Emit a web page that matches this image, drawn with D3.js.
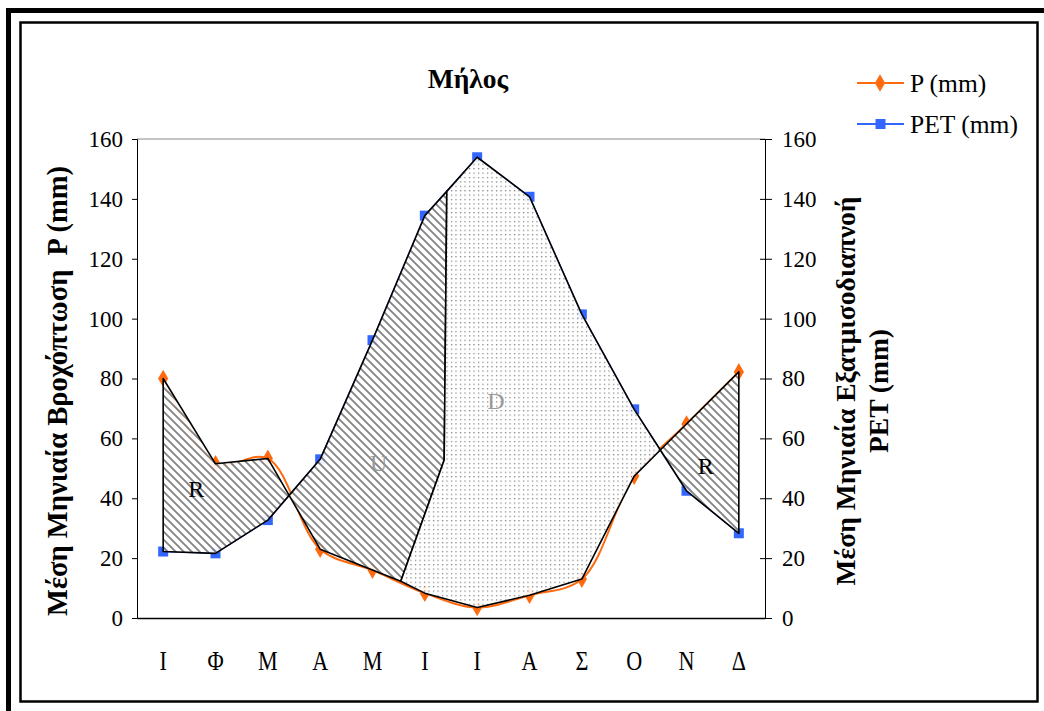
<!DOCTYPE html>
<html><head><meta charset="utf-8">
<script src="https://cdn.jsdelivr.net/npm/d3@7"></script>
<style>body{margin:0;background:#fff}svg{display:block}</style>
</head><body>
<svg id="c" width="1044" height="711" font-family="Liberation Serif"></svg>
<script>
// ---- data ----
const months = ["Ι","Φ","Μ","Α","Μ","Ι","Ι","Α","Σ","Ο","Ν","Δ"];
const P   = [80, 51.5, 53.3, 23, 16, 8.3, 3.5, 7.6, 13, 47.4, 64.8, 82.2];
const PET = [22.2, 21.6, 32.7, 53, 92.8, 134.4, 153.9, 140.7, 101.4, 69.7, 42.5, 28.3];
const yTicks = [0,20,40,60,80,100,120,140,160];
// hand-drawn U/D divider (month position, mm)
const dividerM = [5.42, 5.37, 4.54];
const dividerV = [142.5, 52.8, 12.3];
// zone labels
const zoneText = ["R","U","D","R"];
const zoneM = [0.63, 4.12, 6.36, 10.37];
const zoneV = [43.1, 51.8, 72.6, 50.8];
const title = "Μήλος";
const leftTitle = "Μέση Μηνιαία Βροχόπτωση  P (mm)";
const rightTitle = ["Μέση Μηνιαία Εξατμισοδιαπνοή","PET (mm)"];
const legendNames = ["P (mm)","PET (mm)"];

const FF = "'Liberation Serif', 'DejaVu Serif', serif";
const svg = d3.select("#c");
const L=137, R=765, T=139, B=618;
const x = d3.scaleLinear().domain([-0.5,11.5]).range([L,R]);
const xb = d3.scaleBand().domain(d3.range(12)).range([L,R]);
const y = d3.scaleLinear().domain([0,160]).range([B,T]);
const orange="#FF6A0E", blue="#3366FF";

// frame
svg.append("rect").attr("x",6).attr("y",8).attr("width",1038).attr("height",5).attr("fill","#000");
svg.append("rect").attr("x",6).attr("y",8).attr("width",5).attr("height",703).attr("fill","#000");
svg.append("rect").attr("x",20.5).attr("y",22.5).attr("width",1017).attr("height",679).attr("fill","#fff").attr("stroke","#000").attr("stroke-width",2.5);

// patterns
const defs = svg.append("defs");
const hp = defs.append("pattern").attr("id","hatch").attr("patternUnits","userSpaceOnUse").attr("width",8).attr("height",8);
hp.append("rect").attr("width",8).attr("height",8).attr("fill","#fff");
hp.append("path").attr("d","M-2,6 L2,10 M0,0 L8,8 M6,-2 L10,2").attr("stroke","#7a7a7a").attr("stroke-width",1.9);
const dp = defs.append("pattern").attr("id","dots").attr("patternUnits","userSpaceOnUse").attr("width",4.5).attr("height",4.4);
dp.append("rect").attr("width",4.5).attr("height",4.4).attr("fill","#fff");
dp.append("rect").attr("x",1).attr("y",1).attr("width",1.1).attr("height",1.1).attr("fill","#4a4a4a");

// plot top line
svg.append("line").attr("x1",L).attr("x2",R).attr("y1",T).attr("y2",T).attr("stroke","#888").attr("stroke-width",1);

// axes
const fs = 23;
const ga = svg.append("g").attr("transform",`translate(${L},0)`).call(d3.axisLeft(y).tickValues(yTicks).tickSize(5).tickPadding(9));
const ga2 = svg.append("g").attr("transform",`translate(${R},0)`).call(d3.axisRight(y).tickValues(yTicks).tickSize(7).tickPadding(10));
ga2.selectAll(".tick line").attr("x1",-5);
const gx = svg.append("g").attr("transform",`translate(0,${B})`).call(d3.axisBottom(xb).tickSize(0).tickPadding(33).tickFormat(i=>months[i]));
[ga,ga2,gx].forEach(g=>{
  g.attr("font-family",FF);
  g.selectAll("text").attr("font-family",FF).attr("font-size",fs).attr("fill","#000");
  g.select(".domain").attr("stroke","#000");
  g.selectAll(".tick line").attr("stroke","#000");
});
gx.select(".domain").attr("stroke-width",1.5);
gx.selectAll(".tick text").attr("font-size",27).attr("transform","scale(0.82,1)");

// lines
const lineP = d3.line().x((d,i)=>x(i)).y(d=>y(d)).curve(d3.curveCatmullRom.alpha(0.5));
const linePET = d3.line().x((d,i)=>x(i)).y(d=>y(d));
svg.append("path").attr("d",lineP(P)).attr("fill","none").attr("stroke",orange).attr("stroke-width",2);
svg.append("path").attr("d",linePET(PET)).attr("fill","none").attr("stroke",blue).attr("stroke-width",1.5);
svg.selectAll(".mp").data(P).join("path").attr("class","mp")
  .attr("d",d3.symbol(d3.symbolDiamond,90)).attr("transform",(d,i)=>`translate(${x(i)},${y(d)})`).attr("fill",orange);
svg.selectAll(".mb").data(PET).join("rect").attr("class","mb")
  .attr("x",(d,i)=>x(i)-5).attr("y",d=>y(d)-5).attr("width",10).attr("height",10).attr("fill",blue);

// zone polygons derived from the series
const cross=(i)=>{const d0=P[i]-PET[i], d1=P[i+1]-PET[i+1]; const t=d0/(d0-d1); return [i+t, P[i]+(P[i+1]-P[i])*t];};
const c1=cross(2), c2=cross(9);
const dv = dividerM.map((m,k)=>[m,dividerV[k]]);
const zR1 = [[0,P[0]],[1,P[1]],[2,P[2]],c1,[2,PET[2]],[1,PET[1]],[0,PET[0]]];
const zU = [c1,[3,PET[3]],[4,PET[4]],[5,PET[5]],dv[0],dv[1],dv[2],[4,P[4]],[3,P[3]]];
const zD = [dv[0],[6,PET[6]],[7,PET[7]],[8,PET[8]],[9,PET[9]],c2,[9,P[9]],[8,P[8]],[7,P[7]],[6,P[6]],[5,P[5]],dv[2],dv[1]];
const zR2 = [c2,[10,P[10]],[11,P[11]],[11,PET[11]],[10,PET[10]]];
const poly = d3.line().x(d=>x(d[0])).y(d=>y(d[1])).curve(d3.curveLinearClosed);
[[zR1,"hatch"],[zU,"hatch"],[zD,"dots"],[zR2,"hatch"]].forEach(([z,f])=>{
  svg.append("path").attr("d",poly(z)).attr("fill",`url(#${f})`).attr("fill-opacity",0.92)
    .attr("stroke","#000").attr("stroke-width",1.6).attr("stroke-linejoin","round");
});
// zone labels
svg.selectAll(".zl").data(zoneText).join("text").attr("class","zl")
  .attr("x",(d,i)=>x(zoneM[i])).attr("y",(d,i)=>y(zoneV[i])).attr("dy","0.35em")
  .attr("text-anchor","middle").attr("font-size",24).attr("font-family",FF)
  .attr("fill",(d,i)=> (i===1||i===2)?"#999":"#000").text(d=>d);

// title
svg.append("text").attr("x",468).attr("y",88).attr("text-anchor","middle").attr("font-family",FF)
  .attr("font-size",27.5).attr("font-weight","bold").text(title);
// axis titles
svg.append("text").attr("transform","translate(67,391) rotate(-90)").attr("text-anchor","middle").attr("font-family",FF)
  .attr("font-size",28.5).attr("font-weight","bold").attr("xml:space","preserve").style("white-space","pre").text(leftTitle);
const rt = svg.append("text").attr("transform","translate(855,391) rotate(-90)").attr("text-anchor","middle").attr("font-family",FF)
  .attr("font-size",27.5).attr("font-weight","bold");
rt.selectAll("tspan").data(rightTitle).join("tspan").attr("x",0).attr("dy",(d,i)=>i?"1.2em":0).text(d=>d);

// legend
const lg = svg.append("g");
const ly=[83,124];
legendNames.forEach((n,i)=>{
  const c = i?blue:orange;
  lg.append("line").attr("x1",857).attr("x2",904).attr("y1",ly[i]).attr("y2",ly[i]).attr("stroke",c).attr("stroke-width",2);
  if(i) lg.append("rect").attr("x",875.5).attr("y",ly[i]-5).attr("width",10).attr("height",10).attr("fill",c);
  else lg.append("path").attr("d",d3.symbol(d3.symbolDiamond,90)).attr("transform",`translate(880,${ly[i]})`).attr("fill",c);
  lg.append("text").attr("x",910).attr("y",ly[i]).attr("dy","0.35em").attr("font-family",FF).attr("font-size",25.5).text(n);
});
</script>
</body></html>
